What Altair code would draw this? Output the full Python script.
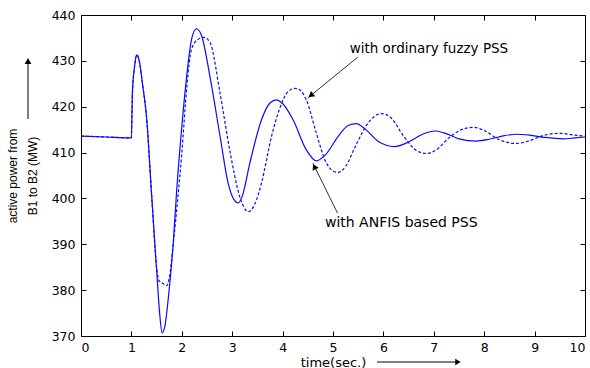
import altair as alt
import pandas as pd

# ANFIS based PSS (solid)
solid_t = [0, 0.5, 0.99, 1.0, 1.02, 1.06, 1.11, 1.16, 1.22, 1.3, 1.4, 1.5, 1.56, 1.61, 1.67, 1.73,
           1.83, 1.9, 2.0, 2.1, 2.2, 2.29, 2.39, 2.56, 2.76, 2.92, 3.05, 3.12, 3.2, 3.35, 3.58,
           3.75, 3.88, 4.0, 4.21, 4.47, 4.67, 4.85, 5.1, 5.3, 5.46, 5.65, 5.9, 6.22, 6.5, 6.8,
           7.02, 7.2, 7.5, 7.84, 8.1, 8.4, 8.64, 8.9, 9.2, 9.56, 9.8, 10.0]
solid_v = [413.6, 413.4, 413.2, 413.2, 423.0, 428.5, 431.3, 429.8, 425.0, 417.8, 401.0, 384.5,
           375.0, 370.7, 372.5, 378.0, 390.2, 402.0, 415.6, 427.0, 435.0, 437.0, 435.6, 426.5,
           413.5, 403.3, 399.5, 399.0, 400.5, 407.7, 417.1, 420.8, 421.5, 420.7, 417.1, 410.6,
           408.2, 409.5, 413.5, 415.9, 416.3, 415.0, 412.4, 411.3, 412.3, 414.1, 414.7, 414.3,
           413.0, 412.5, 412.9, 413.7, 414.0, 413.8, 413.3, 413.0, 413.2, 413.4]

# ordinary fuzzy PSS (dashed)
dashed_t = [0, 0.5, 0.99, 1.0, 1.02, 1.06, 1.11, 1.16, 1.22, 1.3, 1.4, 1.5, 1.55, 1.62, 1.7,
            1.75, 1.83, 1.92, 2.0, 2.1, 2.19, 2.3, 2.44, 2.56, 2.76, 2.95, 3.15, 3.32, 3.45,
            3.58, 3.78, 3.98, 4.1, 4.25, 4.35, 4.47, 4.67, 4.84, 5.0, 5.1, 5.25, 5.45, 5.7,
            5.96, 6.15, 6.4, 6.65, 6.84, 7.05, 7.3, 7.55, 7.78, 8.0, 8.3, 8.64, 8.9, 9.2, 9.49,
            9.8, 10.0]
dashed_v = [413.6, 413.4, 413.2, 413.2, 423.0, 428.5, 431.3, 429.8, 425.0, 417.8, 401.0, 385.0,
            382.0, 381.5, 381.0, 382.5, 390.0, 400.0, 409.8, 424.4, 432.4, 434.5, 435.1, 434.0,
            422.9, 410.6, 400.4, 397.1, 398.8, 403.3, 413.5, 420.7, 423.2, 424.0, 423.6, 421.5,
            414.2, 408.4, 406.0, 405.7, 407.0, 411.5, 416.5, 418.5, 417.6, 413.6, 410.5, 409.8,
            410.6, 413.2, 415.0, 415.5, 414.8, 412.8, 412.0, 412.6, 413.8, 414.2, 413.8, 413.6]

x_ticks = [0, 1, 2, 3, 4, 5, 6, 7, 8, 9, 10]
y_ticks = [370, 380, 390, 400, 410, 420, 430, 440]

# annotation texts and arrow ends (data coordinates)
ann_text = ["with ordinary fuzzy PSS", "with ANFIS based PSS"]
ann_tx = [5.33, 4.84]
ann_tv = [432.6, 394.6]
ann_size = [13.5, 14]
arr_t0 = [5.49, 5.09]
arr_v0 = [430.8, 396.8]
arr_t1 = [4.50, 4.60]
arr_v1 = [421.9, 407.7]
head_t = [4.56, 4.63]
head_v = [422.45, 406.94]
head_angle = [231, 333]

W, H = 504, 321
FONT = "DejaVu Sans"

solid_df = pd.DataFrame({"t": solid_t, "v": solid_v})
dashed_df = pd.DataFrame({"t": dashed_t, "v": dashed_v})
text_df = pd.DataFrame({"label": ann_text, "t": ann_tx, "v": ann_tv, "fs": ann_size})
arrow_df = pd.DataFrame({"t0": arr_t0, "v0": arr_v0, "t1": arr_t1, "v1": arr_v1})
head_df = pd.DataFrame({"t": head_t, "v": head_v, "ang": head_angle})

xs = alt.Scale(domain=[0, 10], nice=False, zero=False)
ys = alt.Scale(domain=[370, 440], nice=False, zero=False)

solid = alt.Chart(solid_df).mark_line(color="#0a0aff", strokeWidth=1.2, interpolate="monotone").encode(
    x=alt.X("t:Q", scale=xs, axis=alt.Axis(
        orient="bottom", values=x_ticks, ticks=False, domain=False, grid=False,
        labelFont=FONT, labelFontSize=12.5, labelColor="black", labelPadding=5,
        title="time(sec.)", titleFont=FONT, titleFontSize=13, titleFontWeight="normal",
        titleColor="black", titleY=26, titleBaseline="middle")),
    y=alt.Y("v:Q", scale=ys, axis=alt.Axis(
        orient="left", values=y_ticks, ticks=False, domain=False, grid=False,
        labelFont=FONT, labelFontSize=12.5, labelColor="black", labelPadding=6,
        title=["active power from", "B1 to B2 (MW)"], titleFont="Liberation Sans",
        titleFontSize=12, titleFontWeight="normal", titleColor="black",
        titleLineHeight=20, titlePadding=12)),
)

dashed = alt.Chart(dashed_df).mark_line(color="#0a0aff", strokeWidth=1.2, strokeDash=[3, 2],
                                        interpolate="monotone").encode(
    x=alt.X("t:Q", scale=xs, axis=alt.Axis(
        orient="top", offset=-H, values=x_ticks, labels=False, ticks=True, tickSize=5,
        tickColor="black", domain=False, grid=False, title=None)),
    y=alt.Y("v:Q", scale=ys, axis=alt.Axis(
        orient="right", offset=-W, values=y_ticks, labels=False, ticks=True, tickSize=5,
        tickColor="black", domain=False, grid=False, title=None)),
)

texts = alt.Chart(text_df).mark_text(align="left", baseline="middle", font=FONT,
                                     color="black").encode(
    x=alt.X("t:Q", scale=xs, axis=alt.Axis(
        orient="bottom", offset=-H, values=x_ticks, labels=False, ticks=True, tickSize=5,
        tickColor="black", domain=False, grid=False, title=None)),
    y=alt.Y("v:Q", scale=ys, axis=alt.Axis(
        orient="left", offset=-W, values=y_ticks, labels=False, ticks=True, tickSize=5,
        tickColor="black", domain=False, grid=False, title=None)),
    text="label:N",
    size=alt.Size("fs:Q", scale=None),
)

arrows = alt.Chart(arrow_df).mark_rule(color="#333333", strokeWidth=1).encode(
    x=alt.X("t0:Q", scale=xs, axis=None), y=alt.Y("v0:Q", scale=ys, axis=None),
    x2="t1:Q", y2="v1:Q",
)

heads = alt.Chart(head_df).mark_point(shape="triangle-up", filled=True, color="black",
                                      size=45, opacity=1).encode(
    x=alt.X("t:Q", scale=xs, axis=None), y=alt.Y("v:Q", scale=ys, axis=None),
    angle=alt.Angle("ang:Q", scale=None),
)

# arrows next to the axis titles (outside the plot area)
y_arrow = alt.Chart(pd.DataFrame({"a": [0]})).mark_rule(color="#555555", strokeWidth=1.5).encode(
    x=alt.value(-53), y=alt.value(104), y2=alt.value(47))
y_head = alt.Chart(pd.DataFrame({"a": [0]})).mark_point(
    shape="triangle-up", filled=True, color="black", size=45, opacity=1).encode(
    x=alt.value(-53), y=alt.value(46))
x_arrow = alt.Chart(pd.DataFrame({"a": [0]})).mark_rule(color="black", strokeWidth=1).encode(
    x=alt.value(296), x2=alt.value(376), y=alt.value(347))
x_head = alt.Chart(pd.DataFrame({"a": [0]})).mark_point(
    shape="triangle-right", filled=True, color="black", size=40, opacity=1).encode(
    x=alt.value(377), y=alt.value(347))

chart = alt.layer(solid, dashed, texts, arrows, heads, y_arrow, y_head, x_arrow, x_head).resolve_axis(
    x="independent", y="independent"
).properties(
    width=W, height=H,
    autosize=alt.AutoSizeParams(type="none"),
    padding={"left": 81, "top": 15, "right": 5, "bottom": 32},
    background="white",
).configure_view(stroke="black", strokeWidth=1)

chart.save("out.html", embed_options={"renderer": "svg", "actions": False})
